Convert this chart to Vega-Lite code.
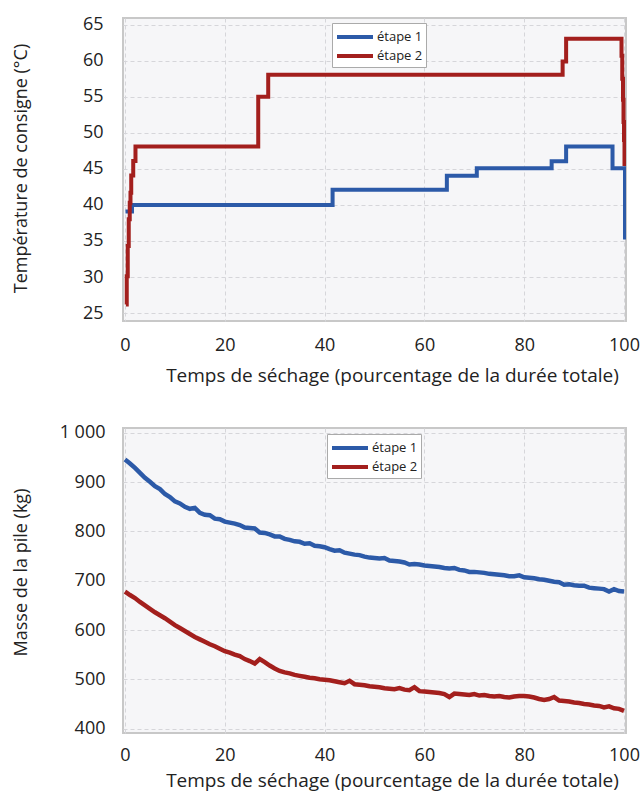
{
  "$schema": "https://vega.github.io/schema/vega-lite/v6.json",
  "padding": {"left": 11, "top": 14, "right": 5, "bottom": 0},
  "background": "white",
  "bounds": "flush",
  "spacing": 107,
  "config": {
    "font": "Open Sans",
    "view": {"fill": "#f6f6f8", "stroke": "#c8c8c8", "strokeWidth": 2},
    "axis": {
      "labelFont": "Open Sans", "labelFontSize": 18, "labelColor": "#222",
      "titleFont": "Open Sans", "titleFontSize": 19, "titleFontWeight": "normal", "titleColor": "#222",
      "domain": false, "ticks": false,
      "gridColor": "#d6d6da", "gridDash": [4, 3], "gridWidth": 1
    },
    "legend": {
      "orient": "none", "title": null, "fillColor": "white", "strokeColor": "#aaaaaa",
      "padding": 3, "labelFont": "Open Sans", "labelFontSize": 13, "labelColor": "#222",
      "symbolType": "M-2,0H2", "symbolStrokeWidth": 4, "symbolSize": 324, "symbolOffset": 9,
      "rowPadding": 0, "labelOffset": 11, "labelLimit": 200
    }
  },
  "datasets": {
    "temp": [
      {"x": 0.1, "t": 39.1, "serie": "étape 1"},
      {"x": 1.4, "t": 40.0, "serie": "étape 1"},
      {"x": 41.6, "t": 42.1, "serie": "étape 1"},
      {"x": 64.5, "t": 44.05, "serie": "étape 1"},
      {"x": 70.5, "t": 45.1, "serie": "étape 1"},
      {"x": 85.5, "t": 46.05, "serie": "étape 1"},
      {"x": 88.4, "t": 48.1, "serie": "étape 1"},
      {"x": 97.7, "t": 45.1, "serie": "étape 1"},
      {"x": 100.2, "t": 35.2, "serie": "étape 1"},
      {"x": 0.2, "t": 26.2, "serie": "étape 2"},
      {"x": 0.35, "t": 30.1, "serie": "étape 2"},
      {"x": 0.55, "t": 34.3, "serie": "étape 2"},
      {"x": 0.75, "t": 38.0, "serie": "étape 2"},
      {"x": 0.95, "t": 40.3, "serie": "étape 2"},
      {"x": 1.1, "t": 41.7, "serie": "étape 2"},
      {"x": 1.25, "t": 44.1, "serie": "étape 2"},
      {"x": 1.65, "t": 46.1, "serie": "étape 2"},
      {"x": 2.1, "t": 48.1, "serie": "étape 2"},
      {"x": 26.7, "t": 55.0, "serie": "étape 2"},
      {"x": 28.7, "t": 58.07, "serie": "étape 2"},
      {"x": 87.7, "t": 59.9, "serie": "étape 2"},
      {"x": 88.4, "t": 63.06, "serie": "étape 2"},
      {"x": 99.5, "t": 60.7, "serie": "étape 2"},
      {"x": 99.65, "t": 57.5, "serie": "étape 2"},
      {"x": 99.8, "t": 54.6, "serie": "étape 2"},
      {"x": 99.9, "t": 51.5, "serie": "étape 2"},
      {"x": 100.0, "t": 49.0, "serie": "étape 2"},
      {"x": 100.1, "t": 45.4, "serie": "étape 2"}
    ],
    "masse": [
      {"x": 0, "m": 946, "serie": "étape 1"}, {"x": 1, "m": 938, "serie": "étape 1"}, {"x": 2, "m": 929, "serie": "étape 1"}, {"x": 3, "m": 919, "serie": "étape 1"}, {"x": 4, "m": 909, "serie": "étape 1"},
      {"x": 5, "m": 901, "serie": "étape 1"}, {"x": 6, "m": 892, "serie": "étape 1"}, {"x": 7, "m": 886, "serie": "étape 1"}, {"x": 8, "m": 876, "serie": "étape 1"}, {"x": 9, "m": 870, "serie": "étape 1"},
      {"x": 10, "m": 861, "serie": "étape 1"}, {"x": 11, "m": 857, "serie": "étape 1"}, {"x": 12, "m": 850, "serie": "étape 1"}, {"x": 13, "m": 846, "serie": "étape 1"}, {"x": 14, "m": 848, "serie": "étape 1"},
      {"x": 15, "m": 838, "serie": "étape 1"}, {"x": 16, "m": 834, "serie": "étape 1"}, {"x": 17, "m": 833, "serie": "étape 1"}, {"x": 18, "m": 826, "serie": "étape 1"}, {"x": 19, "m": 825, "serie": "étape 1"},
      {"x": 20, "m": 820, "serie": "étape 1"}, {"x": 21, "m": 818, "serie": "étape 1"}, {"x": 22, "m": 816, "serie": "étape 1"}, {"x": 23, "m": 813, "serie": "étape 1"}, {"x": 24, "m": 808, "serie": "étape 1"},
      {"x": 25, "m": 807, "serie": "étape 1"}, {"x": 26, "m": 806, "serie": "étape 1"}, {"x": 27, "m": 798, "serie": "étape 1"}, {"x": 28, "m": 797, "serie": "étape 1"}, {"x": 29, "m": 794, "serie": "étape 1"},
      {"x": 30, "m": 790, "serie": "étape 1"}, {"x": 31, "m": 790, "serie": "étape 1"}, {"x": 32, "m": 785, "serie": "étape 1"}, {"x": 33, "m": 783, "serie": "étape 1"}, {"x": 34, "m": 780, "serie": "étape 1"},
      {"x": 35, "m": 779, "serie": "étape 1"}, {"x": 36, "m": 775, "serie": "étape 1"}, {"x": 37, "m": 776, "serie": "étape 1"}, {"x": 38, "m": 771, "serie": "étape 1"}, {"x": 39, "m": 770, "serie": "étape 1"},
      {"x": 40, "m": 768, "serie": "étape 1"}, {"x": 41, "m": 764, "serie": "étape 1"}, {"x": 42, "m": 761, "serie": "étape 1"}, {"x": 43, "m": 762, "serie": "étape 1"}, {"x": 44, "m": 757, "serie": "étape 1"},
      {"x": 45, "m": 755, "serie": "étape 1"}, {"x": 46, "m": 753, "serie": "étape 1"}, {"x": 47, "m": 752, "serie": "étape 1"}, {"x": 48, "m": 749, "serie": "étape 1"}, {"x": 49, "m": 747, "serie": "étape 1"},
      {"x": 50, "m": 746, "serie": "étape 1"}, {"x": 51, "m": 745, "serie": "étape 1"}, {"x": 52, "m": 746, "serie": "étape 1"}, {"x": 53, "m": 741, "serie": "étape 1"}, {"x": 54, "m": 740, "serie": "étape 1"},
      {"x": 55, "m": 739, "serie": "étape 1"}, {"x": 56, "m": 737, "serie": "étape 1"}, {"x": 57, "m": 733, "serie": "étape 1"}, {"x": 58, "m": 734, "serie": "étape 1"}, {"x": 59, "m": 733, "serie": "étape 1"},
      {"x": 60, "m": 731, "serie": "étape 1"}, {"x": 61, "m": 730, "serie": "étape 1"}, {"x": 62, "m": 729, "serie": "étape 1"}, {"x": 63, "m": 728, "serie": "étape 1"}, {"x": 64, "m": 726, "serie": "étape 1"},
      {"x": 65, "m": 725, "serie": "étape 1"}, {"x": 66, "m": 726, "serie": "étape 1"}, {"x": 67, "m": 722, "serie": "étape 1"}, {"x": 68, "m": 721, "serie": "étape 1"}, {"x": 69, "m": 718, "serie": "étape 1"},
      {"x": 70, "m": 718, "serie": "étape 1"}, {"x": 71, "m": 717, "serie": "étape 1"}, {"x": 72, "m": 716, "serie": "étape 1"}, {"x": 73, "m": 714, "serie": "étape 1"}, {"x": 74, "m": 713, "serie": "étape 1"},
      {"x": 75, "m": 712, "serie": "étape 1"}, {"x": 76, "m": 711, "serie": "étape 1"}, {"x": 77, "m": 709, "serie": "étape 1"}, {"x": 78, "m": 709, "serie": "étape 1"}, {"x": 79, "m": 711, "serie": "étape 1"},
      {"x": 80, "m": 707, "serie": "étape 1"}, {"x": 81, "m": 706, "serie": "étape 1"}, {"x": 82, "m": 705, "serie": "étape 1"}, {"x": 83, "m": 703, "serie": "étape 1"}, {"x": 84, "m": 702, "serie": "étape 1"},
      {"x": 85, "m": 700, "serie": "étape 1"}, {"x": 86, "m": 698, "serie": "étape 1"}, {"x": 87, "m": 697, "serie": "étape 1"}, {"x": 88, "m": 692, "serie": "étape 1"}, {"x": 89, "m": 693, "serie": "étape 1"},
      {"x": 90, "m": 691, "serie": "étape 1"}, {"x": 91, "m": 690, "serie": "étape 1"}, {"x": 92, "m": 690, "serie": "étape 1"}, {"x": 93, "m": 686, "serie": "étape 1"}, {"x": 94, "m": 685, "serie": "étape 1"},
      {"x": 95, "m": 684, "serie": "étape 1"}, {"x": 96, "m": 683, "serie": "étape 1"}, {"x": 97, "m": 678, "serie": "étape 1"}, {"x": 98, "m": 683, "serie": "étape 1"}, {"x": 99, "m": 679, "serie": "étape 1"},
      {"x": 100, "m": 678, "serie": "étape 1"},
      {"x": 0, "m": 678, "serie": "étape 2"}, {"x": 1, "m": 671, "serie": "étape 2"}, {"x": 2, "m": 665, "serie": "étape 2"}, {"x": 3, "m": 657, "serie": "étape 2"}, {"x": 4, "m": 650, "serie": "étape 2"},
      {"x": 5, "m": 643, "serie": "étape 2"}, {"x": 6, "m": 636, "serie": "étape 2"}, {"x": 7, "m": 630, "serie": "étape 2"}, {"x": 8, "m": 624, "serie": "étape 2"}, {"x": 9, "m": 617, "serie": "étape 2"},
      {"x": 10, "m": 610, "serie": "étape 2"}, {"x": 11, "m": 604, "serie": "étape 2"}, {"x": 12, "m": 598, "serie": "étape 2"}, {"x": 13, "m": 592, "serie": "étape 2"}, {"x": 14, "m": 586, "serie": "étape 2"},
      {"x": 15, "m": 581, "serie": "étape 2"}, {"x": 16, "m": 576, "serie": "étape 2"}, {"x": 17, "m": 571, "serie": "étape 2"}, {"x": 18, "m": 567, "serie": "étape 2"}, {"x": 19, "m": 562, "serie": "étape 2"},
      {"x": 20, "m": 557, "serie": "étape 2"}, {"x": 21, "m": 554, "serie": "étape 2"}, {"x": 22, "m": 550, "serie": "étape 2"}, {"x": 23, "m": 547, "serie": "étape 2"}, {"x": 24, "m": 541, "serie": "étape 2"},
      {"x": 25, "m": 537, "serie": "étape 2"}, {"x": 26, "m": 532, "serie": "étape 2"}, {"x": 27, "m": 541, "serie": "étape 2"}, {"x": 28, "m": 535, "serie": "étape 2"}, {"x": 29, "m": 528, "serie": "étape 2"},
      {"x": 30, "m": 522, "serie": "étape 2"}, {"x": 31, "m": 517, "serie": "étape 2"}, {"x": 32, "m": 514, "serie": "étape 2"}, {"x": 33, "m": 512, "serie": "étape 2"}, {"x": 34, "m": 509, "serie": "étape 2"},
      {"x": 35, "m": 507, "serie": "étape 2"}, {"x": 36, "m": 505, "serie": "étape 2"}, {"x": 37, "m": 503, "serie": "étape 2"}, {"x": 38, "m": 502, "serie": "étape 2"}, {"x": 39, "m": 500, "serie": "étape 2"},
      {"x": 40, "m": 499, "serie": "étape 2"}, {"x": 41, "m": 498, "serie": "étape 2"}, {"x": 42, "m": 496, "serie": "étape 2"}, {"x": 43, "m": 494, "serie": "étape 2"}, {"x": 44, "m": 492, "serie": "étape 2"},
      {"x": 45, "m": 497, "serie": "étape 2"}, {"x": 46, "m": 490, "serie": "étape 2"}, {"x": 47, "m": 489, "serie": "étape 2"}, {"x": 48, "m": 488, "serie": "étape 2"}, {"x": 49, "m": 486, "serie": "étape 2"},
      {"x": 50, "m": 485, "serie": "étape 2"}, {"x": 51, "m": 484, "serie": "étape 2"}, {"x": 52, "m": 482, "serie": "étape 2"}, {"x": 53, "m": 481, "serie": "étape 2"}, {"x": 54, "m": 480, "serie": "étape 2"},
      {"x": 55, "m": 482, "serie": "étape 2"}, {"x": 56, "m": 479, "serie": "étape 2"}, {"x": 57, "m": 478, "serie": "étape 2"}, {"x": 58, "m": 484, "serie": "étape 2"}, {"x": 59, "m": 476, "serie": "étape 2"},
      {"x": 60, "m": 475, "serie": "étape 2"}, {"x": 61, "m": 474, "serie": "étape 2"}, {"x": 62, "m": 473, "serie": "étape 2"}, {"x": 63, "m": 472, "serie": "étape 2"}, {"x": 64, "m": 470, "serie": "étape 2"},
      {"x": 65, "m": 464, "serie": "étape 2"}, {"x": 66, "m": 471, "serie": "étape 2"}, {"x": 67, "m": 470, "serie": "étape 2"}, {"x": 68, "m": 469, "serie": "étape 2"}, {"x": 69, "m": 468, "serie": "étape 2"},
      {"x": 70, "m": 470, "serie": "étape 2"}, {"x": 71, "m": 467, "serie": "étape 2"}, {"x": 72, "m": 468, "serie": "étape 2"}, {"x": 73, "m": 466, "serie": "étape 2"}, {"x": 74, "m": 465, "serie": "étape 2"},
      {"x": 75, "m": 466, "serie": "étape 2"}, {"x": 76, "m": 464, "serie": "étape 2"}, {"x": 77, "m": 463, "serie": "étape 2"}, {"x": 78, "m": 465, "serie": "étape 2"}, {"x": 79, "m": 466, "serie": "étape 2"},
      {"x": 80, "m": 466, "serie": "étape 2"}, {"x": 81, "m": 465, "serie": "étape 2"}, {"x": 82, "m": 463, "serie": "étape 2"}, {"x": 83, "m": 460, "serie": "étape 2"}, {"x": 84, "m": 458, "serie": "étape 2"},
      {"x": 85, "m": 460, "serie": "étape 2"}, {"x": 86, "m": 464, "serie": "étape 2"}, {"x": 87, "m": 457, "serie": "étape 2"}, {"x": 88, "m": 456, "serie": "étape 2"}, {"x": 89, "m": 455, "serie": "étape 2"},
      {"x": 90, "m": 453, "serie": "étape 2"}, {"x": 91, "m": 452, "serie": "étape 2"}, {"x": 92, "m": 450, "serie": "étape 2"}, {"x": 93, "m": 449, "serie": "étape 2"}, {"x": 94, "m": 447, "serie": "étape 2"},
      {"x": 95, "m": 446, "serie": "étape 2"}, {"x": 96, "m": 443, "serie": "étape 2"}, {"x": 97, "m": 445, "serie": "étape 2"}, {"x": 98, "m": 441, "serie": "étape 2"}, {"x": 99, "m": 440, "serie": "étape 2"},
      {"x": 100, "m": 436, "serie": "étape 2"}
    ]
  },
  "resolve": {"legend": {"color": "independent"}, "scale": {"color": "independent"}},
  "vconcat": [
    {
      "width": 503,
      "height": 303,
      "data": {"name": "temp"},
      "mark": {"type": "line", "interpolate": "step-after", "strokeWidth": 4, "clip": true},
      "encoding": {
        "x": {"field": "x", "type": "quantitative",
          "scale": {"domain": [-0.4, 100.4], "nice": false, "zero": false},
          "axis": {"values": [0, 20, 40, 60, 80, 100], "title": "Temps de séchage (pourcentage de la durée totale)",
            "labelPadding": 15, "titleX": 269, "titleY": 54, "titleBaseline": "middle", "titleAnchor": null}},
        "y": {"field": "t", "type": "quantitative",
          "scale": {"domain": [23.9, 65.93], "nice": false, "zero": false},
          "axis": {"values": [25, 30, 35, 40, 45, 50, 55, 60, 65], "title": "Température de consigne (°C)",
            "labelPadding": 20, "titleFontSize": 18, "titleX": -102, "titleY": 150, "titleBaseline": "middle", "titleAnchor": null}},
        "color": {"field": "serie", "type": "nominal",
          "scale": {"domain": ["étape 1", "étape 2"], "range": ["#2c5aa8", "#a31f1d"]},
          "legend": {"legendX": 209, "legendY": 5}}
      }
    },
    {
      "width": 503,
      "height": 305,
      "data": {"name": "masse"},
      "mark": {"type": "line", "strokeWidth": 4.5, "clip": true},
      "encoding": {
        "x": {"field": "x", "type": "quantitative",
          "scale": {"domain": [-0.4, 100.4], "nice": false, "zero": false},
          "axis": {"values": [0, 20, 40, 60, 80, 100], "title": "Temps de séchage (pourcentage de la durée totale)",
            "labelPadding": 13, "titleX": 269, "titleY": 47, "titleBaseline": "middle", "titleAnchor": null}},
        "y": {"field": "m", "type": "quantitative",
          "scale": {"domain": [391, 1010], "nice": false, "zero": false},
          "axis": {"values": [400, 500, 600, 700, 800, 900, 1000], "title": "Masse de la pile (kg)",
            "labelExpr": "datum.value >= 1000 ? '1 000' : datum.label",
            "labelPadding": 18, "titleFontSize": 18, "titleX": -102, "titleY": 144, "titleBaseline": "middle", "titleAnchor": null}},
        "color": {"field": "serie", "type": "nominal",
          "scale": {"domain": ["étape 1", "étape 2"], "range": ["#2c5aa8", "#a31f1d"]},
          "legend": {"legendX": 204, "legendY": 6}}
      }
    }
  ]
}
